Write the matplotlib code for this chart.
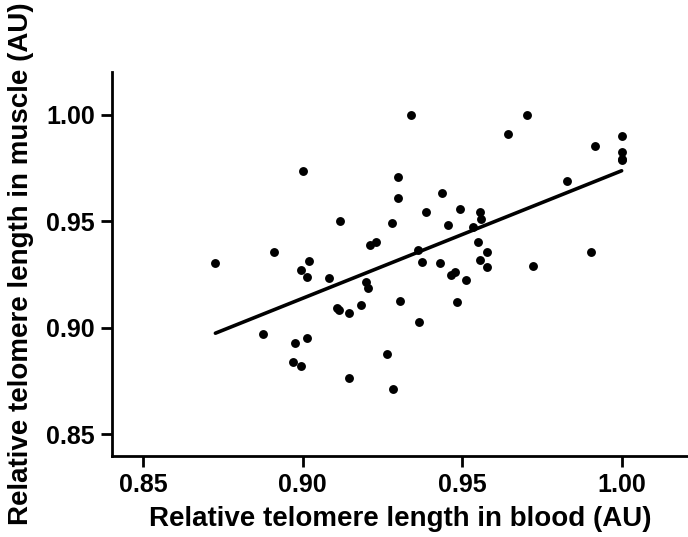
import matplotlib
matplotlib.use("Agg")
import matplotlib.pyplot as plt
import numpy as np

# Data
blood = [0.8727, 0.8875, 0.8910, 0.8969, 0.8976, 0.8996, 0.8994, 0.9000, 0.9013, 0.9013,
         0.9019, 0.9082, 0.9107, 0.9114, 0.9118, 0.9145, 0.9145, 0.9182, 0.9198, 0.9206,
         0.9212, 0.9230, 0.9264, 0.9280, 0.9283, 0.9300, 0.9300, 0.9305, 0.9341, 0.9363,
         0.9366, 0.9373, 0.9388, 0.9432, 0.9438, 0.9457, 0.9466, 0.9477, 0.9483, 0.9495,
         0.9511, 0.9535, 0.9551, 0.9556, 0.9557, 0.9560, 0.9579, 0.9579, 0.9644, 0.9705,
         0.9723, 0.9828, 0.9903, 0.9916, 1.0000, 1.0000, 1.0000, 1.0000]
muscle = [0.9307, 0.8972, 0.9355, 0.8842, 0.8930, 0.8820, 0.9272, 0.9738, 0.9241, 0.8953,
          0.9315, 0.9236, 0.9092, 0.9083, 0.9502, 0.9070, 0.8764, 0.9107, 0.9216, 0.9186,
          0.9388, 0.9405, 0.8879, 0.9494, 0.8715, 0.9707, 0.9612, 0.9128, 1.0000, 0.9368,
          0.9027, 0.9310, 0.9546, 0.9307, 0.9634, 0.9484, 0.9247, 0.9261, 0.9124, 0.9559,
          0.9225, 0.9476, 0.9402, 0.9318, 0.9546, 0.9512, 0.9357, 0.9285, 0.9909, 1.0000,
          0.9290, 0.9692, 0.9358, 0.9856, 0.9900, 0.9826, 0.9795, 0.9790]

fit_slope = 0.599
fit_intercept = 0.3748

x_ticks = [0.85, 0.90, 0.95, 1.00]
y_ticks = [0.85, 0.90, 0.95, 1.00]
x_label = "Relative telomere length in blood (AU)"
y_label = "Relative telomere length in muscle (AU)"

plt.rcParams['font.family'] = ['Liberation Sans', 'DejaVu Sans']
plt.rcParams['font.weight'] = 'bold'

fig = plt.figure(figsize=(6.88, 5.37), dpi=100)
ax = fig.add_axes([111.7 / 688, (537 - 456) / 537, (688 - 111.7) / 688, (456 - 71.7) / 537])

ax.plot(blood, muscle, 'o', color='black', markersize=6.4, markeredgewidth=0)

xs = np.array([min(blood), max(blood)])
ax.plot(xs, fit_slope * xs + fit_intercept, color='black', linewidth=2.6, solid_capstyle='round')

ax.set_xlim(0.8402, 1.0208)
ax.set_ylim(0.8399, 1.0203)
ax.set_xticks(x_ticks)
ax.set_yticks(y_ticks)
ax.set_xticklabels([f"{v:.2f}" for v in x_ticks])
ax.set_yticklabels([f"{v:.2f}" for v in y_ticks])

for s in ['top', 'right']:
    ax.spines[s].set_visible(False)
for s in ['left', 'bottom']:
    ax.spines[s].set_linewidth(2.0)

ax.tick_params(axis='both', direction='out', length=8, width=2.0, labelsize=18, pad=4)
for lab in ax.get_xticklabels() + ax.get_yticklabels():
    lab.set_fontweight('bold')

ax.set_xlabel(x_label, fontsize=20, fontweight='bold', labelpad=7)
ax.set_ylabel(y_label, fontsize=20, fontweight='bold', labelpad=9)

fig.savefig("out.png", dpi=100)
